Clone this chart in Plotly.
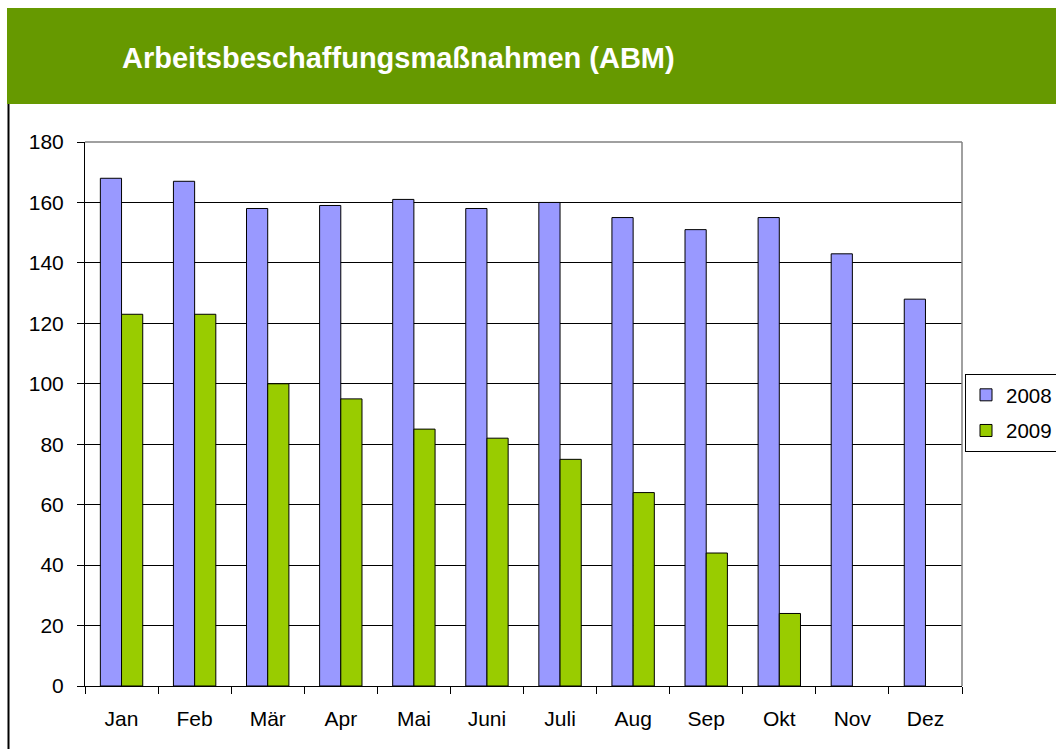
import plotly.graph_objects as go

months = ["Jan", "Feb", "Mär", "Apr", "Mai", "Juni", "Juli", "Aug", "Sep", "Okt", "Nov", "Dez"]
v2008 = [168, 167, 158, 159, 161, 158, 160, 155, 151, 155, 143, 128]
v2009 = [123, 123, 100, 95, 85, 82, 75, 64, 44, 24, None, None]
title_text = "Arbeitsbeschaffungsmaßnahmen (ABM)"

W, H = 1056, 749
# plot area in page pixels
L, R, T, B = 85, 962, 142, 686
pw, ph = R - L, B - T

def px(x):
    return (x - L) / pw

def py(y):
    return (B - y) / ph

fig = go.Figure()
fig.add_bar(x=months, y=v2008, name="2008", legendgroup="a",
            marker=dict(color="#9999FF", line=dict(color="black", width=1)))
fig.add_bar(x=months, y=v2009, name="2009", legendgroup="b",
            marker=dict(color="#99CC00", line=dict(color="black", width=1)))

shapes = [
    dict(type="rect", xref="paper", yref="paper", x0=px(7), x1=px(1080), y0=py(104), y1=py(8),
         fillcolor="#669900", line=dict(width=0), layer="below"),
    dict(type="line", xref="paper", yref="paper", x0=px(8.5), x1=px(8.5), y0=py(104), y1=py(760),
         line=dict(color="black", width=2)),
    dict(type="line", xref="paper", yref="paper", x0=0, x1=1, y0=1, y1=1,
         line=dict(color="#808080", width=1.5)),
    dict(type="line", xref="paper", yref="paper", x0=1, x1=1, y0=0, y1=1,
         line=dict(color="#808080", width=1.5)),
]

FONT = "Liberation Sans, Arial"
fig.update_layout(
    width=W, height=H,
    margin=dict(l=L, r=W - R, t=T, b=H - B, pad=0, autoexpand=False),
    paper_bgcolor="white", plot_bgcolor="white",
    barmode="group", bargap=0.42, bargroupgap=0.0,
    font=dict(family=FONT, size=21, color="black"),
    shapes=shapes,
    annotations=[dict(text="<b>" + title_text + "</b>", xref="paper", yref="paper",
                      x=px(120), y=py(58), xanchor="left", yanchor="middle", showarrow=False,
                      font=dict(size=29, color="white", family=FONT))],
    legend=dict(x=px(965), y=py(413), xanchor="left", yanchor="middle",
                bordercolor="black", borderwidth=1, bgcolor="white",
                font=dict(size=20.5, family=FONT), itemwidth=30, tracegroupgap=6),
    showlegend=True,
)
fig.update_xaxes(type="category", showline=True, linecolor="black", linewidth=1,
                 ticks="outside", ticklen=7, tickcolor="black", tickson="boundaries",
                 showgrid=False, ticklabelstandoff=14)
fig.update_yaxes(range=[0, 180], dtick=20, showline=True, linecolor="black", linewidth=1,
                 ticks="outside", ticklen=7, tickcolor="black", showgrid=True,
                 gridcolor="black", gridwidth=1, zeroline=False, ticklabelstandoff=9)

fig.write_html("out.html", config={"displayModeBar": False},
               post_script="document.body.style.margin='0';document.body.style.overflow='hidden';")
